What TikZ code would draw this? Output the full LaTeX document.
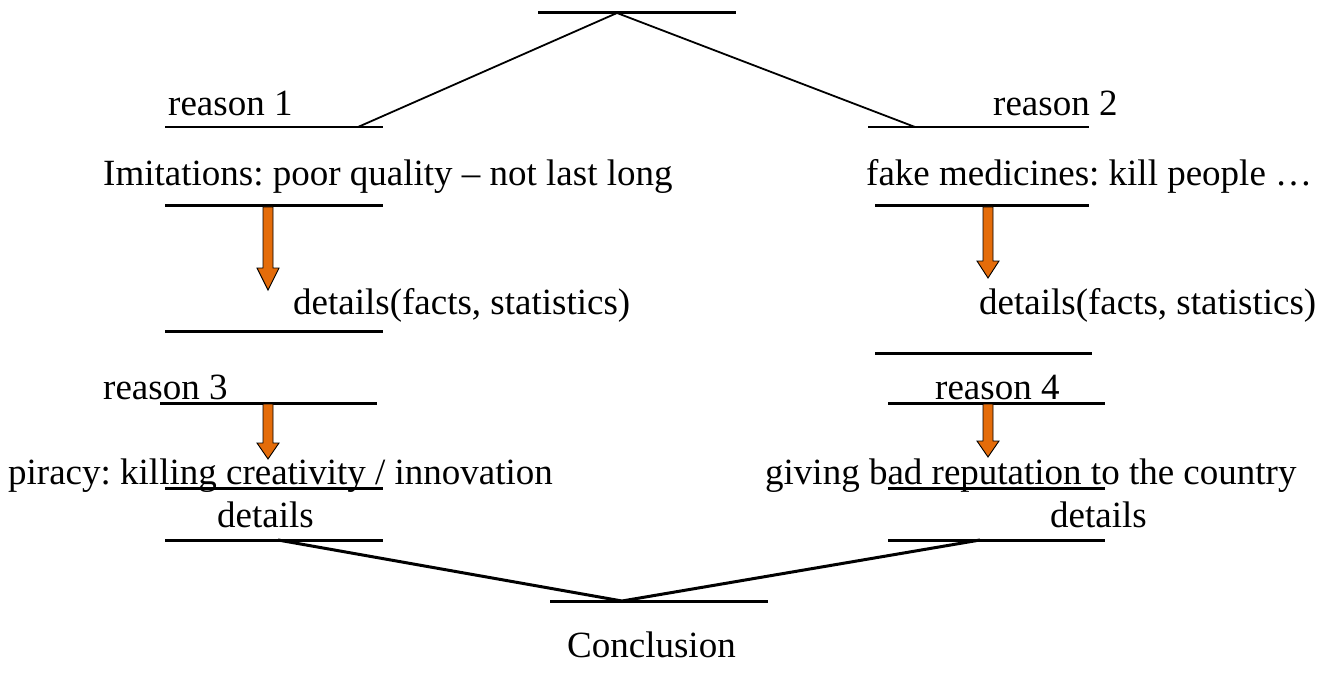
\documentclass[tikz,border=0pt]{standalone}
\usepackage{fontspec}
\setmainfont{Liberation Serif}
\definecolor{arroworange}{HTML}{E46C0A}
\frenchspacing
\begin{document}
\begin{tikzpicture}[x=1pt,y=-1pt,
  txt/.style={inner sep=0pt,anchor=base west,font=\fontsize{37}{44}\selectfont},
  thinline/.style={line width=1.8pt},
  thickline/.style={line width=3pt},
  downarrow/.style={fill=arroworange,draw=black,line width=0.9pt,line join=miter}]
\useasboundingbox (0,0) rectangle (1328,679);
% coordinates
\coordinate (apex) at (617,13);
\coordinate (r1a) at (358,127);
\coordinate (r2a) at (915,127);
\coordinate (d3a) at (278,540);
\coordinate (d4a) at (980,540);
\coordinate (conc) at (622,601);
% top bar and branches
\draw[thickline] (538,13) -- (736,13);
\draw[thinline] (apex) -- (r1a);
\draw[thinline] (apex) -- (r2a);
\draw[thinline] (165,127) -- (383,127);
\draw[thinline] (868,127) -- (1089,127);
% texts
\node[txt] (reason1) at (168,116) {reason 1};
\node[txt] (reason2) at (993,116) {reason 2};
\node[txt] (imit) at (103,186) {Imitations: poor quality – not last long};
\node[txt] (fake) at (866,186) {fake medicines: kill people …};
\node[txt] (det1) at (293,314) {details(facts, statistics)};
\node[txt] (det2) at (979,314) {details(facts, statistics)};
\node[txt] (reason3) at (103,399) {reason 3};
\node[txt] (reason4) at (935,399) {reason 4};
\node[txt] (piracy) at (8,484) {piracy: killing creativity / innovation};
\node[txt] (giving) at (765,484) {giving bad reputation to the country};
\node[txt] (det3) at (217,527) {details};
\node[txt] (det4) at (1050,527) {details};
\node[txt] (concl) at (567,657) {Conclusion};
% bars
\draw[thickline] (165,206) -- (383,206);
\draw[thickline] (875,206) -- (1089,206);
\draw[thickline] (165,331) -- (383,331);
\draw[thickline] (875,353) -- (1092,353);
\draw[thickline] (160,403) -- (377,403);
\draw[thickline] (888,403) -- (1105,403);
\draw[thickline] (165,488) -- (383,488);
\draw[thickline] (888,488) -- (1105,488);
\draw[thickline] (165,540) -- (383,540);
\draw[thickline] (888,540) -- (1105,540);
\draw[thickline] (550,601) -- (768,601);
\draw[thickline] (d3a) -- (conc) -- (d4a);
% arrows
\draw[downarrow] (263,207) -- (273,207) -- (273,268) -- (279,268) -- (268,290) -- (257,268) -- (263,268) -- cycle;
\draw[downarrow] (983,207) -- (993,207) -- (993,261) -- (999,261) -- (988,278) -- (977,261) -- (983,261) -- cycle;
\draw[downarrow] (263,404) -- (273,404) -- (273,443) -- (279,443) -- (268,459) -- (257,443) -- (263,443) -- cycle;
\draw[downarrow] (983,404) -- (993,404) -- (993,441) -- (999,441) -- (988,457) -- (977,441) -- (983,441) -- cycle;
\end{tikzpicture}
\end{document}
